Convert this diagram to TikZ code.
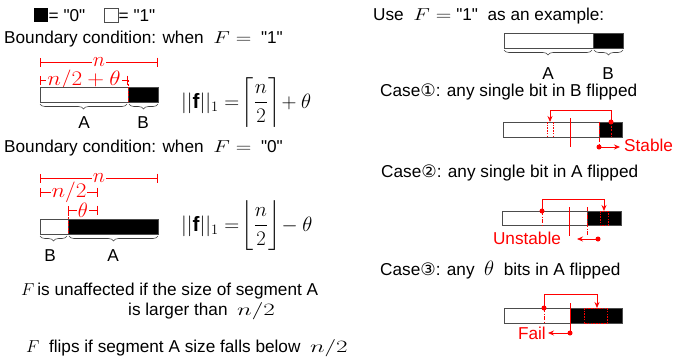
\documentclass[tikz,border=0pt]{standalone}
\usepackage{amsmath}
\usepackage{graphicx}
\usepackage{fontspec}
\setmainfont{Liberation Sans}[Ligatures=TeXOff]
\newfontfamily\symfont{DejaVu Sans}
\usetikzlibrary{arrows.meta,decorations.pathreplacing}
% horizontally widened math, as in the reference
\newcommand{\wm}[2]{\scalebox{#1}[1]{$#2$}}
\newcommand{\bigmath}[1]{{\fontsize{17.28}{19}\selectfont #1}}
\tikzset{
  txt/.style={inner sep=0pt, font=\fontsize{17.2}{19}\selectfont},
  redtxt/.style={txt, text=red},
  dimlbl/.style={inner sep=1pt, fill=white, text=red, font=\fontsize{20.74}{22}\selectfont},
  bar/.style={draw=black!70, line width=0.9pt},
  blk/.style={fill=black, draw=black!70, line width=0.9pt},
  dimline/.style={draw=red, line width=0.7pt, {Bar[width=9pt]}-{Bar[width=9pt]}},
  brc/.style={draw=black!75, line width=0.6pt, decorate, decoration={brace, mirror, amplitude=5pt}},
  redln/.style={draw=red, line width=0.8pt},
  reddot/.style={redln, dash pattern=on 1.5pt off 1.2pt},
  reddash/.style={redln, dash pattern=on 2pt off 1.5pt},
  reddd/.style={redln, dash pattern=on 4pt off 1.5pt on 1pt off 1.5pt},
  redarr/.style={redln, -{Stealth[length=6pt,width=5pt]}},
  dot/.style={circle, fill=red, inner sep=0pt, minimum size=5pt},
  formula/.style={inner sep=0pt, font=\fontsize{20.74}{24}\selectfont},
}
\begin{document}
\begin{tikzpicture}[x=1pt, y=-1pt]
\useasboundingbox (0,0) rectangle (673,360);

% legend
\fill[black] (34,8) rectangle (48,22);
\node[txt, anchor=base west] (l0) at (48.5,21) {= "0"};
\draw[bar, line width=0.7pt] (104,8) rectangle (118,22);
\node[txt, anchor=base west] (l1) at (118.5,21) {= "1"};

% Boundary condition F = 1
\node[txt, anchor=base west] (bc1) at (4,43) {Boundary condition: when \ \bigmath{\wm{1.25}{F=}}\ \ "1"};
\draw[dimline] (40,62) -- node[dimlbl] (dn1) {$n$} (158,62);
\draw[dimline] (40,80) -- node[dimlbl] (dh1) {\wm{1.12}{n/2+\theta}} (128,80);
\draw[bar, fill=white] (40,87) rectangle (128,102);
\draw[blk] (128,87) rectangle (158,102);
\draw[reddash] (128,80) -- (128,102);
\draw[brc] (40,104) -- (127,104);
\draw[brc] (129,104) -- (158,104);
\node[txt] (a1) at (84,123) {A};
\node[txt] (b1) at (143,123) {B};
\node[formula, anchor=base west] (f1) at (181,108) {$||\mathbf{f}||_1 =\!\biggl\lceil\dfrac{n}{2}\biggr\rceil\!+\theta$};

% Boundary condition F = 0
\node[txt, anchor=base west] (bc0) at (4,152) {Boundary condition: when \ \bigmath{\wm{1.25}{F=}}\ \ "0"};
\draw[dimline] (40,178) -- node[dimlbl] (dn0) {$n$} (158,178);
\draw[dimline] (40,192) -- node[dimlbl] (dh0) {\wm{1.12}{n/2}} (98,192);
\draw[dimline] (68,210) -- node[dimlbl] (dt0) {$\theta$} (98,210);
\draw[bar, fill=white] (40,219) rectangle (68,234);
\draw[blk] (68,219) rectangle (158,234);
\draw[reddash] (68,210) -- (68,234);
\draw[brc] (40,236) -- (67,236);
\draw[brc] (69,236) -- (158,236);
\node[txt] (b0) at (50,256) {B};
\node[txt] (a0) at (113,256) {A};
\node[formula, anchor=base west] (f0) at (181,231) {$||\mathbf{f}||_1 =\!\biggl\lfloor\dfrac{n}{2}\biggr\rfloor\!-\theta$};

% statements
\node[txt, anchor=base west] (s1) at (21,295) {\bigmath{$F$}\,is unaffected if the size of segment A};
\node[txt, anchor=base west] (s2) at (128,315) {is larger than \ \bigmath{\wm{1.45}{n/2}}};
\node[txt, anchor=base west] (s3) at (26,352) {\bigmath{$F$} \ flips if segment A size falls below \ \bigmath{\wm{1.45}{n/2}}};

% right side
\node[txt, anchor=base west] (use) at (373,20) {Use \ \bigmath{\wm{1.25}{F=}}\ "1" \ as an example:};
\draw[bar, fill=white] (504,33) rectangle (593,48);
\draw[blk] (593,33) rectangle (623,48);
\draw[brc] (504,50) -- (592,50);
\draw[brc] (594,50) -- (623,50);
\node[txt] (ra) at (548,74) {A};
\node[txt] (rb) at (608,74) {B};

% Case 1
\node[txt, anchor=base west] (c1) at (380,96) {Case{\symfont ①}: any single bit in B flipped};
\draw[bar, fill=white] (503,122) rectangle (599,137);
\draw[blk] (599,122) rectangle (622,137);
\draw[reddot] (547,122) -- (547,137);
\draw[reddot] (553,122) -- (553,137);
\draw[reddash] (611,122) -- (611,137);
\node[dot] (c1s) at (611,122) {};
\coordinate (c1e) at (550,122);
\draw[redarr] (c1s.center) -- (611,110) -- (550,110) -- (c1e);
\draw[redln] (570,118) -- (570,147);
\draw[reddd] (599,122) -- (599,147);
\node[dot] (c1d) at (599,147) {};
\coordinate (c1r) at (620,147);
\draw[redarr] (c1d.center) -- (c1r);
\node[redtxt, anchor=west] (stable) at (624,145) {Stable};

% Case 2
\node[txt, anchor=base west] (c2) at (381,177) {Case{\symfont ②}: any single bit in A flipped};
\draw[bar, fill=white] (502,211) rectangle (587,225);
\draw[blk] (587,211) rectangle (621,225);
\draw[reddot] (600,211) rectangle (608,225);
\draw[reddd] (542,211) -- (542,225);
\node[dot] (c2s) at (542,211) {};
\coordinate (c2e) at (604,211);
\draw[redarr] (c2s.center) -- (542,199) -- (604,199) -- (c2e);
\draw[redln] (569,207) -- (569,236);
\draw[reddd] (587,207) -- (587,236);
\node[dot] (c2d) at (598,239) {};
\coordinate (c2l) at (577,239);
\draw[redarr] (c2d.center) -- (c2l);
\node[redtxt] (unstable) at (527,238) {Unstable};

% Case 3
\node[txt, anchor=base west] (c3) at (380,275) {Case{\symfont ③}: any \ {\fontsize{20.74}{22}\selectfont$\theta$} \ bits in A flipped};
\draw[bar, fill=white] (504,308) rectangle (570,323);
\draw[blk] (570,308) rectangle (622,323);
\draw[reddot] (584,308) rectangle (607,323);
\draw[reddd] (544,308) -- (544,323);
\node[dot] (c3s) at (544,308) {};
\coordinate (c3e) at (597,308);
\draw[redarr] (c3s.center) -- (544,294) -- (597,294) -- (c3e);
\draw[redln] (570,303) -- (570,333);
\node[dot] (c3d) at (570,333) {};
\coordinate (c3l) at (548,333);
\draw[redarr] (c3d.center) -- (c3l);
\node[redtxt, anchor=east] (fail) at (546,333) {Fail};
\end{tikzpicture}
\end{document}
